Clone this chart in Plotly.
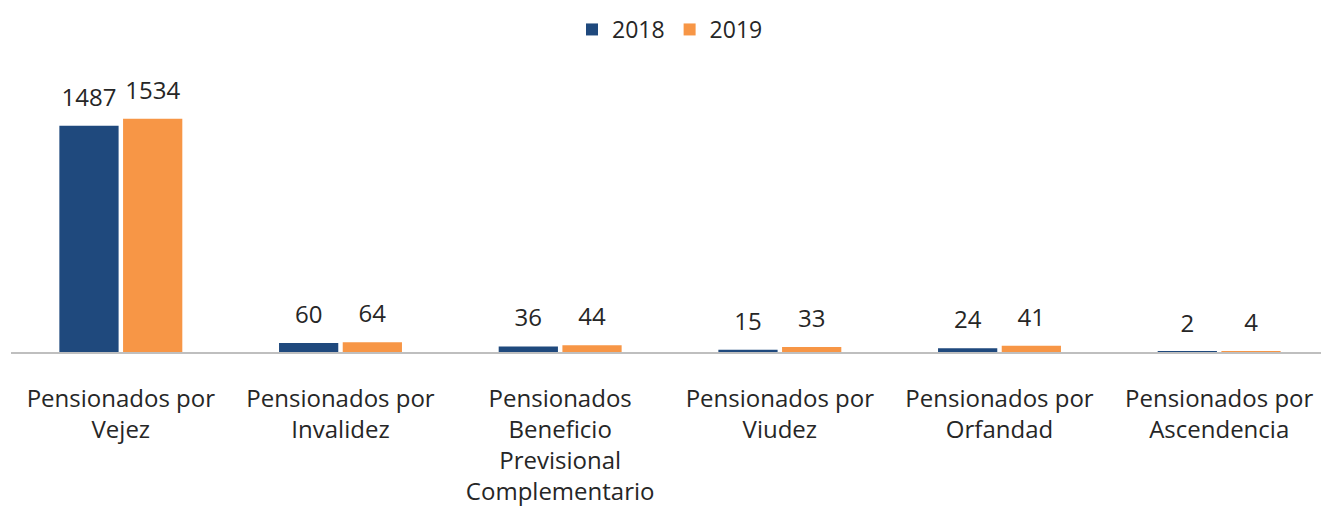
import plotly.graph_objects as go

categories = [
    "Pensionados por<br>Vejez",
    "Pensionados por<br>Invalidez",
    "Pensionados<br>Beneficio<br>Previsional<br>Complementario",
    "Pensionados por<br>Viudez",
    "Pensionados por<br>Orfandad",
    "Pensionados por<br>Ascendencia",
]
values_2018 = [1487, 60, 36, 15, 24, 2]
values_2019 = [1534, 64, 44, 33, 41, 4]
series_names = ["2018", "2019"]
colors = ["#1F497D", "#F79646"]

FONT = "Open Sans"
TEXT_COLOR = "#262626"

fig = go.Figure()
for name, vals, col in zip(series_names, [values_2018, values_2019], colors):
    fig.add_trace(go.Bar(
        x=categories, y=vals, name=name, offsetgroup=name,
        marker=dict(color=col, line=dict(width=0)),
        hoverinfo="x+y+name",
    ))
for name, vals in zip(series_names, [values_2018, values_2019]):
    fig.add_trace(go.Scatter(
        x=categories, y=vals, name=name, offsetgroup=name,
        mode="markers+text", text=[str(v) for v in vals],
        textposition="top center",
        textfont=dict(family=FONT, size=24, color=TEXT_COLOR),
        marker=dict(size=21, opacity=0),
        showlegend=False, cliponaxis=False, hoverinfo="skip",
    ))

# page body has an 8px margin: the figure is sized/offset to compensate
fig.update_layout(
    width=1321, height=509,
    margin=dict(l=3, r=0, t=52, b=165),
    paper_bgcolor="white", plot_bgcolor="white",
    barmode="group", bargap=0.42, bargroupgap=0.07,
    scattermode="group", scattergap=0.42,
    font=dict(family=FONT, size=23, color=TEXT_COLOR),
    showlegend=True,
    legend=dict(orientation="h", x=0.5, xanchor="center", yref="container",
                y=1, yanchor="top", font=dict(size=23, color=TEXT_COLOR),
                traceorder="normal", borderwidth=0),
)
fig.update_xaxes(
    showline=True, linecolor="#BFBFBF", linewidth=2,
    showgrid=False, ticks="", tickfont=dict(family=FONT, size=24, color=TEXT_COLOR),
    ticklabelstandoff=24, tickangle=0,
)
fig.update_yaxes(visible=False, range=[0, 1920], showgrid=False, zeroline=False)

fig.write_html("out.html")
